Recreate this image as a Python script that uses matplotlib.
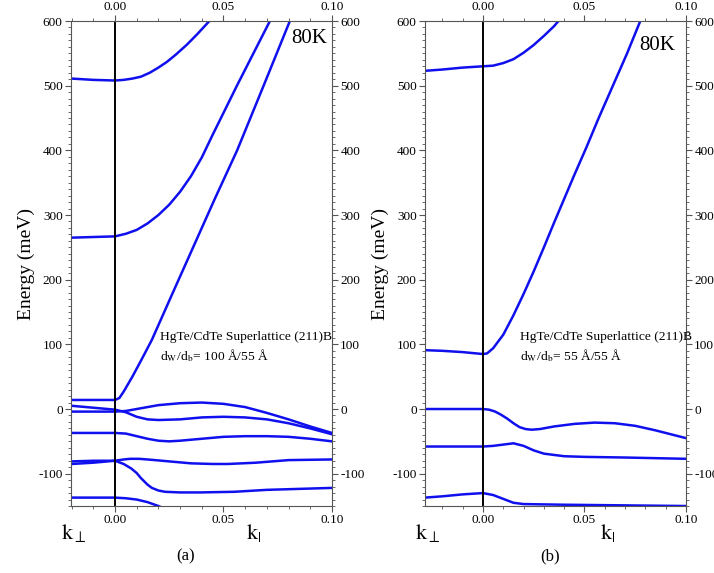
import matplotlib
matplotlib.use("Agg")
import matplotlib.pyplot as plt
from matplotlib.ticker import MultipleLocator

plt.rcParams['font.family'] = ['Liberation Serif', 'DejaVu Serif']
plt.rcParams['mathtext.fontset'] = 'stix'

# ---- panel (a): d_W/d_b = 100 A / 55 A ----
a_k1 = [-0.02, -0.01, 0, 0.004, 0.008, 0.012, 0.016, 0.02, 0.024, 0.028, 0.033, 0.038, 0.0435]
a_e1 = [511, 509, 508, 509, 511, 514, 520, 528, 537, 548, 563, 580, 600]

a_k2 = [-0.02, -0.01, 0, 0.005, 0.01, 0.015, 0.02, 0.025, 0.03, 0.035, 0.04, 0.045, 0.0562, 0.0714]
a_e2 = [265, 266, 267, 271, 277, 287, 300, 316, 336, 360, 389, 424, 500, 600]

a_k3 = [-0.02, 0, 0.002, 0.004, 0.008, 0.012, 0.017, 0.026, 0.036, 0.046, 0.0563, 0.0685, 0.0806]
a_e3 = [14, 14, 17, 27, 50, 75, 107, 175, 250, 325, 400, 500, 600]

a_k4 = [-0.02, -0.01, 0, 0.005, 0.01, 0.015, 0.02, 0.03, 0.04, 0.05, 0.06, 0.07, 0.08, 0.09, 0.1]
a_e4 = [-4, -4, -4, -3, 0, 3, 6, 9, 10, 8, 3, -6, -16, -27, -37]

a_k5 = [-0.02, -0.01, 0, 0.005, 0.01, 0.015, 0.02, 0.03, 0.04, 0.05, 0.06, 0.07, 0.08, 0.09, 0.1]
a_e5 = [5, 2, -1, -5, -12, -16, -17, -16, -13, -12, -13, -16, -22, -30, -39]

a_k6 = [-0.02, 0, 0.005, 0.01, 0.015, 0.02, 0.025, 0.03, 0.04, 0.05, 0.06, 0.07, 0.08, 0.09, 0.1]
a_e6 = [-37, -37, -38, -42, -46, -49, -50, -49, -46, -43, -42, -42, -43, -46, -50]

a_k7 = [-0.02, -0.01, 0, 0.004, 0.007, 0.011, 0.015, 0.025, 0.035, 0.045, 0.052, 0.065, 0.08, 0.1]
a_e7 = [-81, -80, -80, -78, -77, -77, -78, -81, -84, -85, -85, -83, -79, -78]

a_k8 = [-0.02, -0.01, 0, 0.004, 0.0075, 0.01, 0.012, 0.015, 0.017, 0.02, 0.023, 0.03, 0.039, 0.055, 0.07, 0.1]
a_e8 = [-85, -83, -80, -85, -92, -99, -107, -117, -122, -126, -128, -129, -129, -128, -125, -122]

a_k9 = [-0.02, 0, 0.005, 0.01, 0.015, 0.02, 0.022]
a_e9 = [-137, -137, -138, -140, -144, -150, -153]

# ---- panel (b): d_W/d_b = 55 A / 55 A ----
b_k1 = [-0.0286, -0.02, -0.01, 0, 0.005, 0.01, 0.015, 0.02, 0.025, 0.03, 0.035, 0.038]
b_e1 = [523, 525, 528, 530, 531, 535, 541, 551, 563, 577, 592, 603]

b_k2 = [-0.0286, -0.02, -0.01, 0, 0.002, 0.005, 0.01, 0.015, 0.02, 0.025, 0.03, 0.035, 0.04,
        0.045, 0.051, 0.057, 0.064, 0.071, 0.0775]
b_e2 = [91, 90, 88, 85, 86, 94, 115, 145, 178, 213, 250, 288, 325, 362, 405, 450, 500, 550, 600]

b_k3 = [-0.0286, 0, 0.003, 0.006, 0.009, 0.012, 0.015, 0.018, 0.021, 0.024, 0.028, 0.035, 0.045,
        0.055, 0.065, 0.075, 0.085, 0.1]
b_e3 = [0, 0, -1, -4, -9, -15, -22, -28, -31, -32, -31, -27, -23, -21, -22, -26, -33, -45]

b_k4 = [-0.0286, 0, 0.005, 0.01, 0.015, 0.02, 0.025, 0.03, 0.04, 0.05, 0.07, 0.1]
b_e4 = [-58, -58, -57, -55, -53, -57, -64, -69, -73, -74, -75, -77]

b_k5 = [-0.0286, -0.02, -0.01, 0, 0.005, 0.01, 0.015, 0.02, 0.04, 0.07, 0.1]
b_e5 = [-137, -135, -132, -130, -133, -139, -145, -147, -148, -149, -150]

panels = [
    dict(rect=[0.0994, 0.1169, 0.3655, 0.8464], xmin=-0.0203,
         bands=[(a_k1, a_e1), (a_k2, a_e2), (a_k3, a_e3), (a_k4, a_e4), (a_k5, a_e5),
                (a_k6, a_e6), (a_k7, a_e7), (a_k8, a_e8), (a_k9, a_e9)],
         sample=r'd$_\mathrm{W}$/d$_\mathrm{b}$= 100 Å/55 Å', label='(a)', lx=0.44,
         txt_k=0.0207, k80=0.098, e80=573),
    dict(rect=[0.5952, 0.1169, 0.3655, 0.8464], xmin=-0.0286,
         bands=[(b_k1, b_e1), (b_k2, b_e2), (b_k3, b_e3), (b_k4, b_e4), (b_k5, b_e5)],
         sample=r'd$_\mathrm{W}$/d$_\mathrm{b}$= 55 Å/55 Å', label='(b)', lx=0.48,
         txt_k=0.018, k80=0.0946, e80=562),
]

fig = plt.figure(figsize=(7.14, 5.73), dpi=100)

for p in panels:
    ax = fig.add_axes(p['rect'])
    for k, e in p['bands']:
        ax.plot(k, e, color='#1010ee', lw=1.8, solid_capstyle='round', solid_joinstyle='round')
    ax.axvline(0, color='black', lw=1.4)
    ax.set_xlim(p['xmin'], 0.10)
    ax.set_ylim(-150, 600)
    ax.set_xticks([0.0, 0.05, 0.10])
    ax.set_xticklabels(['0.00', '0.05', '0.10'])
    ax.set_yticks([-100, 0, 100, 200, 300, 400, 500, 600])
    ax.set_yticklabels(['-100', '0', '100', '200', '300', '400', '500', '600'])
    ax.xaxis.set_minor_locator(MultipleLocator(0.01))
    ax.yaxis.set_minor_locator(MultipleLocator(10))
    ax.tick_params(which='both', direction='out', top=True, right=True,
                   labeltop=True, labelright=True, labelsize=9.5, pad=2,
                   color='#555555')
    ax.tick_params(which='major', length=4)
    ax.tick_params(which='minor', length=2)
    for s in ax.spines.values():
        s.set_color('#555555')
    ax.set_ylabel('Energy (meV)', fontsize=14, labelpad=2)

    ax.text(p['k80'], p['e80'], '80K', fontsize=15, ha='right', va='center')
    ax.text(p['txt_k'], 111, 'HgTe/CdTe Superlattice (211)B', fontsize=9.7, va='center')
    ax.text(p['txt_k'], 83, p['sample'], fontsize=9.7, va='center')

    ax.text(0.011, -0.056, r'$\mathrm{k}_{\perp}$', fontsize=16, ha='center', va='center',
            transform=ax.transAxes)
    ax.text(0.70, -0.056, r'$\mathrm{k}_{|}$', fontsize=16, ha='center', va='center',
            transform=ax.transAxes)
    ax.text(p['lx'], -0.103, p['label'], fontsize=12, ha='center', va='center',
            transform=ax.transAxes)

fig.savefig('out.png', dpi=100)
